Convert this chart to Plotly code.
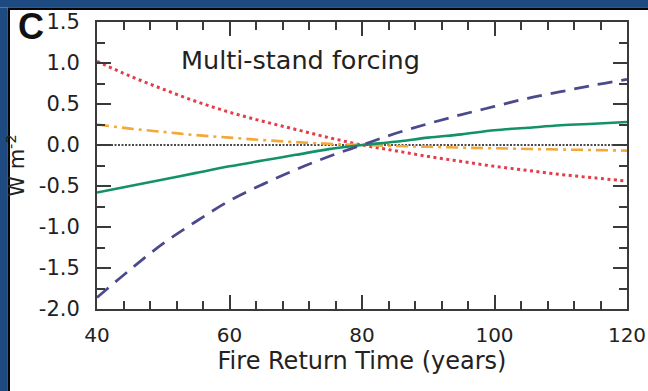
import plotly.graph_objects as go

# Fire return time (years) and multi-stand radiative forcing components (W m-2)
years = [40, 45, 50, 55, 60, 65, 70, 75, 80, 85, 90, 95, 100, 105, 110, 115, 120]
red_dotted = [1.02, 0.84, 0.68, 0.53, 0.40, 0.29, 0.19, 0.09, 0.0, -0.07, -0.14, -0.20, -0.26, -0.31, -0.36, -0.40, -0.44]
orange_dashdot = [0.25, 0.20, 0.16, 0.12, 0.09, 0.06, 0.035, 0.015, 0.0, -0.012, -0.022, -0.032, -0.04, -0.048, -0.055, -0.062, -0.068]
green_solid = [-0.58, -0.50, -0.42, -0.34, -0.26, -0.19, -0.12, -0.05, 0.0, 0.04, 0.09, 0.13, 0.18, 0.21, 0.24, 0.26, 0.28]
navy_dashed = [-1.86, -1.52, -1.20, -0.93, -0.68, -0.48, -0.30, -0.14, 0.0, 0.14, 0.26, 0.37, 0.47, 0.57, 0.65, 0.73, 0.80]

x_ticks = [40, 60, 80, 100, 120]
y_ticks = [1.5, 1.0, 0.5, 0.0, -0.5, -1.0, -1.5, -2.0]
y_tick_labels = ["1.5", "1.0", "0.5", "0.0", "-0.5", "-1.0", "-1.5", "-2.0"]

W, H = 648, 391
# plot area edges in page pixels
PL, PR, PT, PB = 97, 627, 22, 309


def px(x):
    return x / W


def py(y):
    return 1 - y / H


fig = go.Figure()

# zero reference line
fig.add_trace(go.Scatter(x=[years[0], years[-1]], y=[0, 0], mode="lines",
                         line=dict(color="#111111", width=1.6, dash="2px,1.5px"),
                         hoverinfo="skip", showlegend=False))

fig.add_trace(go.Scatter(x=years, y=red_dotted, mode="lines",
                         line=dict(color="#e63b48", width=3, dash="3px,3.5px", shape="spline"),
                         showlegend=False))
fig.add_trace(go.Scatter(x=years, y=orange_dashdot, mode="lines",
                         line=dict(color="#f2a83a", width=2.6, dash="12px,5px,3px,5px", shape="spline"),
                         showlegend=False))
fig.add_trace(go.Scatter(x=years, y=green_solid, mode="lines",
                         line=dict(color="#13926a", width=2.6, shape="spline"),
                         showlegend=False))
fig.add_trace(go.Scatter(x=years, y=navy_dashed, mode="lines",
                         line=dict(color="#4b4a8c", width=2.8, dash="15px,9px", shape="spline"),
                         showlegend=False))

axis_common = dict(
    showline=True, linecolor="#3a3a3a", linewidth=2, mirror="ticks",
    ticks="inside", ticklen=14, tickwidth=2, tickcolor="#3a3a3a",
    showgrid=False, zeroline=False, automargin=False,
)

fig.update_xaxes(
    domain=[px(PL), px(PR)],
    range=[40, 120], tickvals=x_ticks,
    minor=dict(dtick=4, ticks="inside", ticklen=8, tickwidth=2, tickcolor="#3a3a3a", showgrid=False),
    tickfont=dict(family="DejaVu Sans", size=20, color="#222222"),
    ticklabelstandoff=7,
    title=dict(text="Fire Return Time (years)", standoff=5,
               font=dict(family="DejaVu Sans", size=24, color="#222222")),
    **axis_common,
)
fig.update_yaxes(
    domain=[py(PB), py(PT)],
    range=[-2.0, 1.5], tickvals=y_ticks, ticktext=y_tick_labels,
    minor=dict(dtick=0.25, ticks="inside", ticklen=8, tickwidth=2, tickcolor="#3a3a3a", showgrid=False),
    tickfont=dict(family="DejaVu Sans", size=21, color="#222222"),
    ticklabelstandoff=11,
    title=dict(text="W m<sup>-2</sup>", standoff=8,
               font=dict(family="DejaVu Sans", size=21, color="#222222")),
    **axis_common,
)

# navy frame along the top and left edges, each with a thin black inner edge
NAVY, EDGE = "#1d4a80", "#050505"
shapes = [
    dict(type="rect", xref="paper", yref="paper", x0=px(0), x1=px(W), y0=py(0), y1=py(7.5),
         fillcolor=NAVY, line=dict(width=0), layer="above"),
    dict(type="rect", xref="paper", yref="paper", x0=px(7.5), x1=px(W), y0=py(7.5), y1=py(10),
         fillcolor=EDGE, line=dict(width=0), layer="above"),
    dict(type="rect", xref="paper", yref="paper", x0=px(0), x1=px(7.5), y0=py(7.5), y1=py(H),
         fillcolor=NAVY, line=dict(width=0), layer="above"),
    dict(type="rect", xref="paper", yref="paper", x0=px(7.5), x1=px(10), y0=py(10), y1=py(H),
         fillcolor=EDGE, line=dict(width=0), layer="above"),
]

annotations = [
    dict(text="<b>C</b>", xref="paper", yref="paper", x=px(16), y=py(27),
         xanchor="left", yanchor="middle", showarrow=False,
         font=dict(family="Liberation Sans", size=36, color="#111111")),
    dict(text="Multi-stand forcing", xref="paper", yref="paper", x=px(179), y=py(60),
         xanchor="left", yanchor="middle", showarrow=False,
         font=dict(family="DejaVu Sans", size=25.5, color="#222222")),
]

fig.update_layout(
    width=W, height=H,
    margin=dict(l=0, r=0, t=0, b=0, pad=0, autoexpand=False),
    paper_bgcolor="white", plot_bgcolor="white",
    shapes=shapes, annotations=annotations,
)

fig.write_html("out.html")
